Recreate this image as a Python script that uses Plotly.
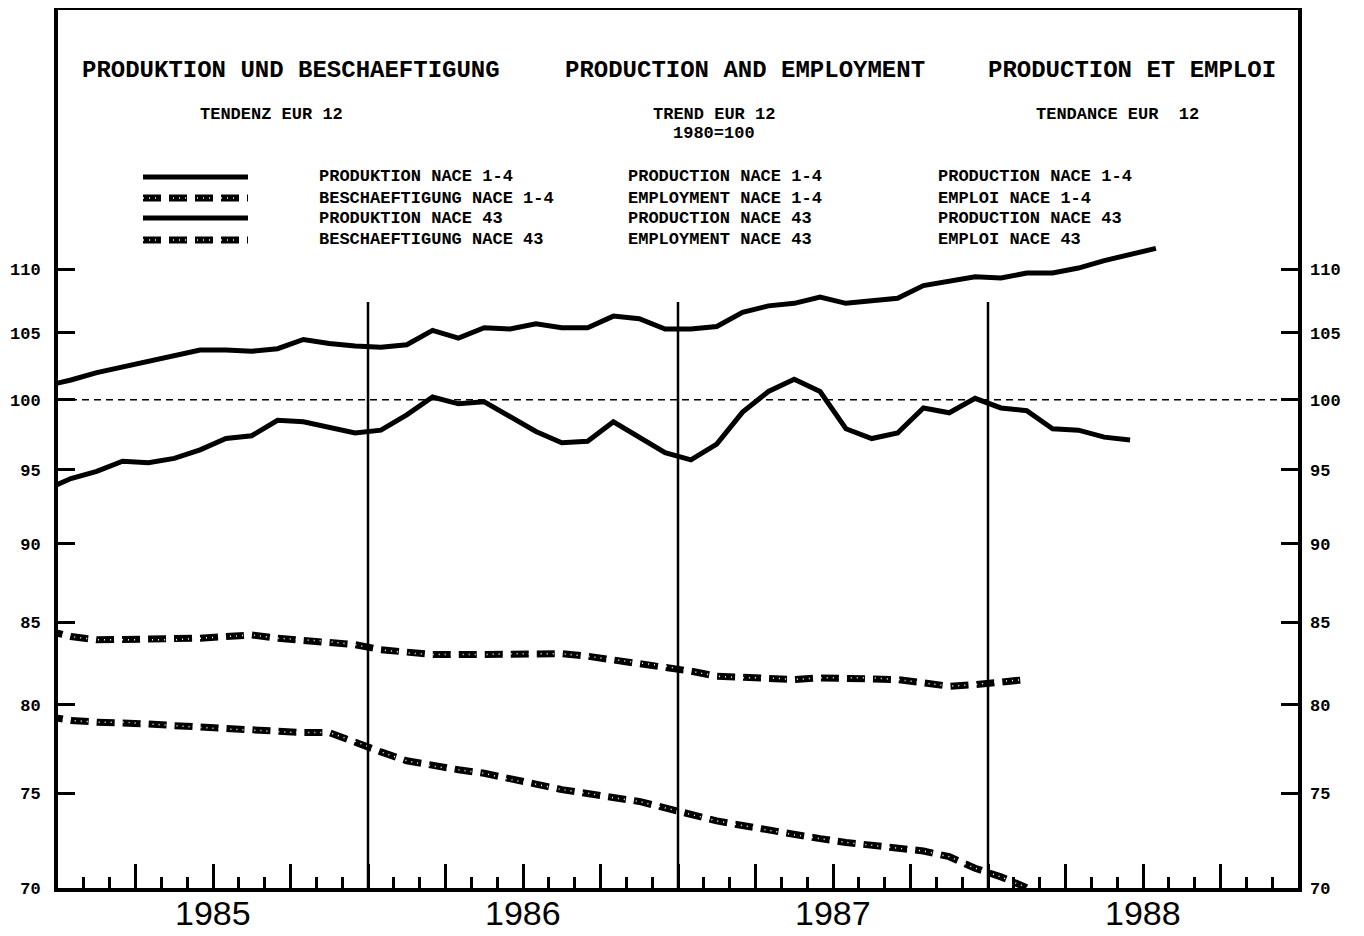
import numpy as np
import plotly.graph_objects as go

# monthly trend indices (1980=100); the first value of each
# series is December 1984 and is cut off by the frame
prod_nace_1_4 = [101.0, 101.45, 102.0, 102.4, 102.8, 103.2, 103.7, 103.7, 103.6, 103.8,
                 104.5, 104.2, 104.0, 103.9, 104.1, 105.2, 104.6, 105.4, 105.3, 105.7,
                 105.4, 105.4, 106.3, 106.1, 105.3, 105.3, 105.5, 106.6, 107.1, 107.3,
                 107.8, 107.3, 107.5, 107.7, 108.7, 109.0, 109.4, 109.3, 109.7, 109.7,
                 110.1, 110.7, 111.2, 111.7]
prod_nace_43 = [93.6, 94.4, 94.9, 95.6, 95.5, 95.8, 96.4, 97.2, 97.4, 98.5,
                98.4, 98.0, 97.6, 97.8, 98.9, 100.2, 99.7, 99.85, 98.8, 97.7,
                96.9, 97.0, 98.4, 97.3, 96.2, 95.7, 96.8, 99.1, 100.6, 101.5,
                100.6, 97.9, 97.2, 97.6, 99.4, 99.05, 100.1, 99.4, 99.2, 97.9,
                97.8, 97.3, 97.1]
empl_nace_1_4 = [84.5, 84.1, 83.9, 83.9, 83.9, 83.9, 84.0, 84.1, 84.2, 84.0,
                 83.9, 83.8, 83.6, 83.3, 83.1, 83.0, 83.0, 83.0, 83.05, 83.05,
                 83.05, 82.9, 82.7, 82.5, 82.3, 82.0, 81.7, 81.6, 81.6, 81.5,
                 81.6, 81.6, 81.6, 81.5, 81.3, 81.1, 81.2, 81.4, 81.5]
empl_nace_43 = [79.35, 79.1, 79.0, 79.0, 78.9, 78.8, 78.7, 78.6, 78.55, 78.45,
                78.4, 78.4, 77.9, 77.3, 76.8, 76.5, 76.3, 76.1, 75.75, 75.5,
                75.2, 75.0, 74.75, 74.55, 74.2, 73.85, 73.5, 73.25, 73.0, 72.75,
                72.55, 72.35, 72.2, 72.05, 71.9, 71.6, 71.0, 70.55, 70.0]

years = ["1985", "1986", "1987", "1988"]
y_ticks = [70, 75, 80, 85, 90, 95, 100, 105, 110]
base_index = 100
divider_top = 107.4

legend_de = ["PRODUKTION NACE 1-4", "BESCHAEFTIGUNG NACE 1-4",
             "PRODUKTION NACE 43", "BESCHAEFTIGUNG NACE 43"]
legend_en = ["PRODUCTION NACE 1-4", "EMPLOYMENT NACE 1-4",
             "PRODUCTION NACE 43", "EMPLOYMENT NACE 43"]
legend_fr = ["PRODUCTION NACE 1-4", "EMPLOI NACE 1-4",
             "PRODUCTION NACE 43", "EMPLOI NACE 43"]

# the page body adds an 8px margin around the figure
PAGE = 8
W, H = 1348, 936
L, R, T, B = 50, 58, 2, 56
MONO = "Liberation Mono"
DASH = "18px,8px"
DOTS = "1px,5px"


def months(values):
    # mid-month positions, in months from January 1985
    return np.arange(len(values)) - 0.5


def px(x):
    # window pixel -> paper x
    return (x - PAGE - L) / (W - L - R)


def py(y):
    # window pixel -> paper y
    return (H - B - (y - PAGE)) / (H - T - B)


fig = go.Figure()

for vals in (prod_nace_1_4, prod_nace_43):
    fig.add_trace(go.Scatter(x=months(vals), y=vals, mode="lines",
                             line=dict(color="black", width=5)))
for vals in (empl_nace_1_4, empl_nace_43):
    fig.add_trace(go.Scatter(x=months(vals), y=vals, mode="lines",
                             line=dict(color="black", width=7, dash=DASH)))
    fig.add_trace(go.Scatter(x=months(vals), y=vals, mode="lines",
                             line=dict(color="white", width=1.5, dash=DOTS)))

# year separators
xs, ys = [], []
for i in range(1, len(years)):
    xs += [12 * i, 12 * i, None]
    ys += [divider_top, 60, None]
fig.add_trace(go.Scatter(x=xs, y=ys, mode="lines", line=dict(color="black", width=2.5)))

# 1980 = 100 reference line (also carries the right-hand axis)
fig.add_trace(go.Scatter(x=[0, 12 * len(years)], y=[base_index, base_index], mode="lines",
                         line=dict(color="black", width=1.5, dash="7px,5px"), yaxis="y2"))

# titles
for text, cx in [("PRODUKTION UND BESCHAEFTIGUNG", 291),
                 ("PRODUCTION AND EMPLOYMENT", 745),
                 ("PRODUCTION ET EMPLOI", 1132)]:
    fig.add_annotation(x=px(cx), y=py(70), xref="paper", yref="paper", text=text,
                       showarrow=False, xanchor="center", yanchor="middle",
                       font=dict(family=MONO, size=24, color="black", weight="bold"))
for text, cx, cy in [("TENDENZ EUR 12", 271, 114),
                     ("TREND EUR 12", 714, 114),
                     ("1980=100", 714, 134),
                     ("TENDANCE EUR\u00a0 12", 1117, 114)]:
    fig.add_annotation(x=px(cx), y=py(cy), xref="paper", yref="paper", text=text,
                       showarrow=False, xanchor="center", yanchor="middle",
                       font=dict(family=MONO, size=17, color="black", weight="bold"))

# legend
rows = [177, 198, 218, 240]
for i, row in enumerate(rows):
    dashed = i % 2 == 1
    fig.add_shape(type="line", xref="paper", yref="paper",
                  x0=px(143), x1=px(248), y0=py(row), y1=py(row),
                  line=dict(color="black", width=7 if dashed else 5,
                            dash=DASH if dashed else "solid"))
    if dashed:
        fig.add_shape(type="line", xref="paper", yref="paper",
                      x0=px(143), x1=px(248), y0=py(row), y1=py(row),
                      line=dict(color="white", width=1.5, dash=DOTS))
    for labels, lx in [(legend_de, 317), (legend_en, 626), (legend_fr, 936)]:
        fig.add_annotation(x=px(lx), y=py(row), xref="paper", yref="paper",
                           text=labels[i], showarrow=False, xanchor="left", yanchor="middle",
                           font=dict(family=MONO, size=17, color="black", weight="bold"))

# year labels, centred in each year
n_months = 12 * len(years)
for i, yr in enumerate(years):
    fig.add_annotation(x=12 * i + 6, y=py(913), xref="x", yref="paper", text=yr,
                       showarrow=False, xanchor="center", yanchor="middle",
                       font=dict(family="Liberation Sans", size=34, color="black"))

y_range = [np.log10(69.98), np.log10(132.96)]
ytick_font = dict(family=MONO, size=17, color="black", weight="bold")

fig.update_layout(
    width=W, height=H, margin=dict(l=L, r=R, t=T, b=B),
    plot_bgcolor="white", paper_bgcolor="white", showlegend=False,
    xaxis=dict(range=[0, n_months], showgrid=False, zeroline=False, automargin=False,
               showline=True, linewidth=4, linecolor="black", mirror=True,
               ticks="inside", tickmode="linear", tick0=0, dtick=3, showticklabels=False,
               ticklen=24, tickwidth=2.5, tickcolor="black",
               minor=dict(ticks="inside", tickmode="linear", tick0=0, dtick=1,
                          ticklen=11, tickwidth=2.5, tickcolor="black")),
    yaxis=dict(type="log", range=y_range, showgrid=False, zeroline=False, automargin=False,
               showline=True, linewidth=4, linecolor="black", mirror=True,
               ticks="inside", tickvals=y_ticks, ticktext=[str(v) for v in y_ticks],
               ticklen=17, tickwidth=3, tickcolor="black", tickfont=ytick_font,
               ticklabelstandoff=10),
    yaxis2=dict(type="log", range=y_range, overlaying="y", side="right", automargin=False,
                showgrid=False, zeroline=False, showline=False,
                ticks="inside", tickvals=y_ticks, ticktext=[str(v) for v in y_ticks],
                ticklen=17, tickwidth=3, tickcolor="black", tickfont=ytick_font,
                ticklabelstandoff=11),
)

fig.write_html("out.html")
